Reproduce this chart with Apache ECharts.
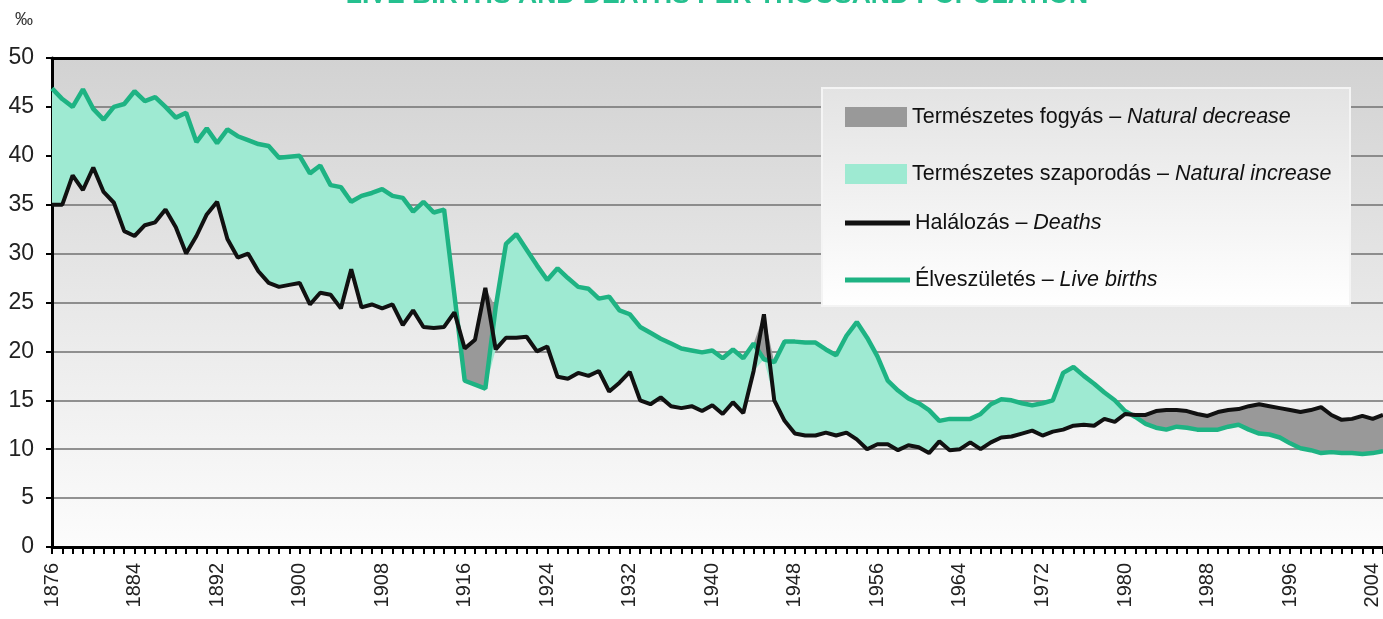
<!DOCTYPE html>
<html>
<head>
<meta charset="utf-8">
<script src="https://cdn.jsdelivr.net/npm/echarts@6/dist/echarts.min.js"></script>
<style>
  html, body { margin: 0; padding: 0; background: #fff; }
  #container { width: 1383px; height: 619px; }
</style>
</head>
<body>
<div id="container"></div>
<script>
// years 1876..2005
var years = [];
for (var y = 1876; y <= 2005; y++) years.push(String(y));

// Élveszületés – live births, per thousand
var births = [
  46.9, 45.8, 45.0, 46.8,
  44.8, 43.7, 45.0, 45.3, 46.6, 45.6, 46.0, 45.0, 43.9, 44.4,
  41.4, 42.8, 41.3, 42.7, 42.0, 41.6, 41.2, 41.0, 39.8, 39.9,
  40.0, 38.2, 39.0, 37.0, 36.8, 35.3, 35.9, 36.2, 36.6, 35.9,
  35.7, 34.3, 35.3, 34.2, 34.5, 25.8, 17.0, 16.6, 16.2, 24.5,
  31.0, 32.0, 30.4, 28.8, 27.3, 28.5, 27.5, 26.6, 26.4, 25.4,
  25.6, 24.2, 23.8, 22.5, 21.9, 21.3, 20.8, 20.3, 20.1, 19.9,
  20.1, 19.3, 20.2, 19.3, 20.8, 19.2, 18.9, 21.0, 21.0, 20.9,
  20.9, 20.2, 19.6, 21.6, 23.0, 21.4, 19.5, 17.0, 16.0, 15.2,
  14.7, 14.0, 12.9, 13.1, 13.1, 13.1, 13.6, 14.6, 15.1, 15.0,
  14.7, 14.5, 14.7, 15.0, 17.8, 18.4, 17.5, 16.7, 15.8, 15.0,
  13.9, 13.3, 12.6, 12.2, 12.0, 12.3, 12.2, 12.0, 12.0, 12.0,
  12.3, 12.5, 12.0, 11.6, 11.5, 11.2, 10.6, 10.1, 9.9, 9.6,
  9.7, 9.6, 9.6, 9.5, 9.6, 9.8
];

// Halálozás – deaths, per thousand
var deaths = [
  35.0, 35.0, 38.0, 36.5,
  38.8, 36.3, 35.2, 32.3, 31.8, 32.9, 33.2, 34.5, 32.7, 30.0,
  31.8, 34.0, 35.3, 31.5, 29.6, 30.0, 28.2, 27.0, 26.6, 26.8,
  27.0, 24.8, 26.0, 25.8, 24.4, 28.4, 24.5, 24.8, 24.4, 24.8,
  22.7, 24.2, 22.5, 22.4, 22.5, 24.0, 20.3, 21.2, 26.5, 20.2,
  21.4, 21.4, 21.5, 20.0, 20.5, 17.4, 17.2, 17.8, 17.5, 18.0,
  15.9, 16.8, 17.9, 15.0, 14.6, 15.3, 14.4, 14.2, 14.4, 13.9,
  14.5, 13.6, 14.8, 13.7, 18.0, 23.8, 15.0, 12.9, 11.6, 11.4,
  11.4, 11.7, 11.4, 11.7, 11.0, 10.0, 10.5, 10.5, 9.9, 10.4,
  10.2, 9.6, 10.8, 9.9, 10.0, 10.7, 10.0, 10.7, 11.2, 11.3,
  11.6, 11.9, 11.4, 11.8, 12.0, 12.4, 12.5, 12.4, 13.1, 12.8,
  13.6, 13.5, 13.5, 13.9, 14.0, 14.0, 13.9, 13.6, 13.4, 13.8,
  14.0, 14.1, 14.4, 14.6, 14.4, 14.2, 14.0, 13.8, 14.0, 14.3,
  13.5, 13.0, 13.1, 13.4, 13.1, 13.5
];

var yTicks = [0, 5, 10, 15, 20, 25, 30, 35, 40, 45, 50];

var names = {
  decrease: 'Természetes fogyás – Natural decrease',
  increase: 'Természetes szaporodás – Natural increase',
  deaths: 'Halálozás – Deaths',
  births: 'Élveszületés – Live births'
};

var colGreen = '#1eb383';
var colMint = '#9eead2';
var colGray = '#999999';

// stack pieces for the filled band between the two lines
var base = [], inc = [], dec = [];
for (var i = 0; i < years.length; i++) {
  var b = births[i], d = deaths[i];
  base.push(Math.min(b, d));
  inc.push(+Math.max(b - d, 0).toFixed(2));
  dec.push(+Math.max(d - b, 0).toFixed(2));
}

var myChart = echarts.init(document.getElementById('container'));

function legendFmt(name) {
  var p = name.split(' – ');
  return '{n|' + p[0] + ' – }{i|' + p[1] + '}';
}
var legendText = {
  color: '#111',
  fontFamily: 'Liberation Sans',
  fontSize: 21.5,
  lineHeight: 20,
  rich: {
    n: { fontFamily: 'Liberation Sans', fontSize: 21.5, color: '#111' },
    i: { fontFamily: 'Liberation Sans', fontSize: 21.5, fontStyle: 'italic', color: '#111' }
  }
};

var option = {
  animation: false,
  graphic: [
    {
      type: 'text', x: 717, y: 9, z: 10,
      style: {
        text: 'LIVE BIRTHS AND DEATHS PER THOUSAND POPULATION',
        textAlign: 'center', textVerticalAlign: 'bottom',
        font: 'bold 26.5px "Liberation Sans"', fill: '#25c08f'
      }
    },
    {
      type: 'text', x: 15, y: 11,
      style: { text: '‰', font: '18px "Liberation Sans Narrow", "Liberation Sans"', fill: '#333' }
    },
    {
      type: 'rect', z: 3,
      shape: { x: 822, y: 88, width: 528, height: 218 },
      style: {
        fill: new echarts.graphic.LinearGradient(0, 0, 0, 1, [
          { offset: 0, color: '#e3e3e3' },
          { offset: 1, color: '#ffffff' }
        ]),
        stroke: '#f4f4f4', lineWidth: 2
      }
    }
  ],
  legend: [
    {
      orient: 'vertical', left: 845, top: 106, padding: 0,
      itemWidth: 62, itemHeight: 20, itemGap: 35, icon: 'rect',
      selectedMode: false, z: 5,
      data: [
        { name: names.decrease, itemStyle: { color: colGray, borderWidth: 0 } },
        { name: names.increase, itemStyle: { color: colMint, borderWidth: 0 } }
      ],
      formatter: legendFmt, textStyle: legendText
    },
    {
      orient: 'vertical', left: 845, top: 212, padding: 0,
      itemWidth: 65, itemHeight: 5, itemGap: 35, icon: 'rect',
      selectedMode: false, z: 5,
      data: [
        { name: names.deaths, itemStyle: { color: '#111', borderWidth: 0 } },
        { name: names.births, itemStyle: { color: colGreen, borderWidth: 0 } }
      ],
      formatter: legendFmt, textStyle: legendText
    }
  ],
  grid: {
    left: 52, right: 0, top: 58, bottom: 72,
    show: true, borderWidth: 0,
    backgroundColor: new echarts.graphic.LinearGradient(0, 0, 0, 1, [
      { offset: 0, color: '#d2d2d2' },
      { offset: 0.5, color: '#e8e8e8' },
      { offset: 1, color: '#fcfcfc' }
    ])
  },
  xAxis: [
    {
      type: 'category', data: years, boundaryGap: false,
      axisLine: { lineStyle: { color: '#000', width: 3 } },
      axisTick: { interval: 0, length: 7, lineStyle: { color: '#000', width: 2 } },
      axisLabel: {
        interval: 7, rotate: 90, margin: 16,
        color: '#222', fontFamily: 'Liberation Sans', fontSize: 20
      },
      splitLine: { show: false }
    },
    {
      type: 'category', data: years, boundaryGap: false, position: 'top',
      axisLine: { lineStyle: { color: '#000', width: 3 } },
      axisTick: { show: false }, axisLabel: { show: false }
    }
  ],
  yAxis: {
    type: 'value', min: yTicks[0], max: yTicks[yTicks.length - 1], interval: 5,
    axisLine: { show: true, lineStyle: { color: '#000', width: 3 } },
    axisTick: { show: true, length: 6, lineStyle: { color: '#000', width: 2 } },
    axisLabel: {
      margin: 18, color: '#222',
      fontFamily: '"Liberation Sans Narrow", "Liberation Sans"', fontSize: 23
    },
    splitLine: { lineStyle: { color: '#707070', width: 1.5 } }
  },
  series: [
    {
      name: 'base', type: 'line', stack: 'band', data: base,
      symbol: 'none', silent: true,
      lineStyle: { width: 0, opacity: 0 }
    },
    {
      name: names.increase, type: 'line', stack: 'band', data: inc,
      symbol: 'none', silent: true,
      itemStyle: { color: colMint },
      lineStyle: { width: 0, opacity: 0 },
      areaStyle: { color: colMint, opacity: 1 }
    },
    {
      name: names.decrease, type: 'line', stack: 'band', data: dec,
      symbol: 'none', silent: true,
      itemStyle: { color: colGray },
      lineStyle: { width: 0, opacity: 0 },
      areaStyle: { color: colGray, opacity: 1 }
    },
    {
      name: names.births, type: 'line', data: births,
      symbol: 'none', z: 3,
      itemStyle: { color: colGreen },
      lineStyle: { color: colGreen, width: 4.5 }
    },
    {
      name: names.deaths, type: 'line', data: deaths,
      symbol: 'none', z: 4,
      itemStyle: { color: '#111' },
      lineStyle: { color: '#111', width: 4 }
    }
  ]
};

myChart.setOption(option);
</script>
</body>
</html>
